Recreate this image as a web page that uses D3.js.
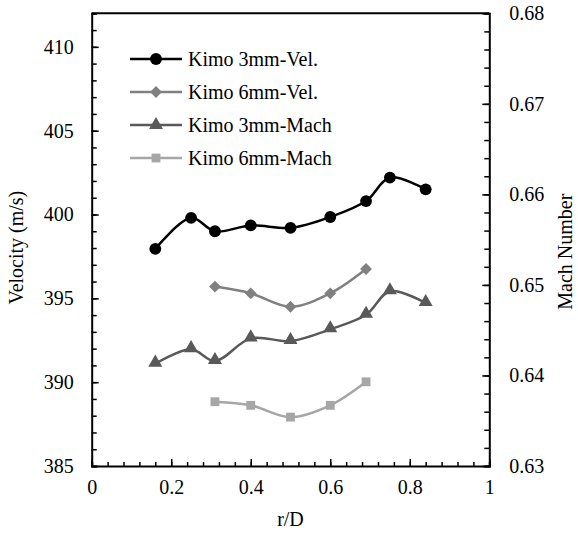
<!DOCTYPE html>
<html>
<head>
  <meta charset="utf-8">
  <style>
    body { margin: 0; background: #fff; }
    svg, svg text { font-family: "Liberation Serif", "Times New Roman", "DejaVu Serif", serif !important; fill: #000; }
  </style>
</head>
<body>
  <script src="https://cdn.jsdelivr.net/npm/d3@7/dist/d3.min.js"></script>
  <script>
    // chart data
    var rD = [0.16, 0.25, 0.31, 0.40, 0.50, 0.60, 0.69, 0.75, 0.84];
    var rD6 = [0.31, 0.40, 0.50, 0.60, 0.69];
    var vel3mm = [397.95, 399.8, 399.0, 399.35, 399.2, 399.85, 400.8, 402.2, 401.5];
    var vel6mm = [395.7, 395.3, 394.5, 395.3, 396.75];
    var mach3mm = [0.6413, 0.6429, 0.6416, 0.6441, 0.6438, 0.6451, 0.6467, 0.6493, 0.6480];
    var mach6mm = [0.6371, 0.6367, 0.6354, 0.6367, 0.6393];
    var seriesNames = ["Kimo 3mm-Vel.", "Kimo 6mm-Vel.", "Kimo 3mm-Mach", "Kimo 6mm-Mach"];
    var xTicks = [0, 0.2, 0.4, 0.6, 0.8, 1];
    var velTicks = [385, 390, 395, 400, 405, 410];
    var machTicks = [0.63, 0.64, 0.65, 0.66, 0.67, 0.68];

    var w = 578, h = 533;
    var FONT = "'Liberation Serif', 'Times New Roman', 'DejaVu Serif', serif";
    // plot box (note: "top" is reserved on window, so use pTop etc.)
    var pLeft = 91.7, pRight = 489.3, pTop = 13.3, pBottom = 466;

    var x = d3.scaleLinear().domain([0, 1]).range([pLeft, pRight]);
    var yV = d3.scaleLinear().domain([385, 412]).range([pBottom, pTop]);
    var yM = d3.scaleLinear().domain([0.63, 0.68]).range([pBottom, pTop]);

    var svg = d3.select("body").append("svg")
      .attr("width", w)
      .attr("height", h)
      .attr("font-family", FONT);

    // series definitions (axis + style)
    var series = [
      { name: seriesNames[0], xs: rD, ys: vel3mm, y: yV, color: "#000000", marker: "circle" },
      { name: seriesNames[1], xs: rD6, ys: vel6mm, y: yV, color: "#808080", marker: "diamond" },
      { name: seriesNames[2], xs: rD, ys: mach3mm, y: yM, color: "#595959", marker: "triangle" },
      { name: seriesNames[3], xs: rD6, ys: mach6mm, y: yM, color: "#a6a6a6", marker: "square" }
    ];

    function markerPath(type) {
      if (type == "circle") return d3.symbol().type(d3.symbolCircle).size(110)();
      if (type == "diamond") return d3.symbol().type(d3.symbolSquare).size(70)();
      if (type == "triangle") return d3.symbol().type(d3.symbolTriangle).size(85)();
      return d3.symbol().type(d3.symbolSquare).size(78)();
    }

    // axes box
    svg.append("g")
      .attr("transform", "translate(0," + pBottom + ")")
      .call(d3.axisBottom(x).tickValues(d3.range(0, 1.001, 0.04)).tickSize(-4).tickFormat(""));
    svg.append("g")
      .attr("transform", "translate(0," + pBottom + ")")
      .call(d3.axisBottom(x).tickValues(xTicks).tickSize(-7).tickPadding(14).tickFormat(d3.format("")))
      .call(function(g) { g.select(".domain").remove(); });

    svg.append("g")
      .attr("transform", "translate(" + pLeft + ",0)")
      .call(d3.axisLeft(yV).tickValues(d3.range(385, 412.01, 1)).tickSize(-5).tickFormat(""));
    svg.append("g")
      .attr("transform", "translate(" + pLeft + ",0)")
      .call(d3.axisLeft(yV).tickValues(velTicks).tickSize(-7).tickPadding(18))
      .call(function(g) { g.select(".domain").remove(); });

    svg.append("g")
      .attr("transform", "translate(" + pRight + ",0)")
      .call(d3.axisRight(yM).tickValues(d3.range(0, 26).map(function(i) { return 0.63 + i * 0.002; })).tickSize(-5).tickFormat(""));
    svg.append("g")
      .attr("transform", "translate(" + pRight + ",0)")
      .call(d3.axisRight(yM).tickValues(machTicks).tickSize(-7).tickPadding(20).tickFormat(d3.format(".2f")))
      .call(function(g) { g.select(".domain").remove(); });

    svg.append("line")
      .attr("x1", pLeft).attr("x2", pRight)
      .attr("y1", pTop).attr("y2", pTop)
      .attr("stroke", "#000").attr("stroke-width", 2);

    svg.selectAll("g").attr("font-family", FONT);
    svg.selectAll(".domain").attr("stroke", "#000").attr("stroke-width", 2);
    svg.selectAll(".tick line").attr("stroke", "#000").attr("stroke-width", 1.5);
    svg.selectAll(".tick text").attr("font-size", "20px").attr("fill", "#000").attr("font-family", FONT);

    // axis titles
    svg.append("text")
      .attr("text-anchor", "middle")
      .attr("x", (pLeft + pRight) / 2)
      .attr("y", 526)
      .attr("font-size", "20px")
      .attr("font-family", FONT)
      .text("r/D");

    svg.append("text")
      .attr("text-anchor", "middle")
      .attr("transform", "translate(23," + ((pTop + pBottom) / 2 + 8) + ") rotate(-90)")
      .attr("font-size", "20px")
      .attr("font-family", FONT)
      .text("Velocity  (m/s)");

    svg.append("text")
      .attr("text-anchor", "middle")
      .attr("transform", "translate(572," + ((pTop + pBottom) / 2 + 12) + ") rotate(-90)")
      .attr("font-size", "20px")
      .attr("font-family", FONT)
      .text("Mach Number");

    // lines + markers
    series.forEach(function(s) {
      var pts = s.xs.map(function(d, i) { return [d, s.ys[i]]; });
      var line = d3.line()
        .x(function(d) { return x(d[0]); })
        .y(function(d) { return s.y(d[1]); })
        .curve(d3.curveCatmullRom.alpha(0.5));
      svg.append("path")
        .datum(pts)
        .attr("d", line)
        .attr("fill", "none")
        .attr("stroke", s.color)
        .attr("stroke-width", 2.5);
      svg.selectAll(null)
        .data(pts)
        .enter()
        .append("path")
        .attr("d", markerPath(s.marker))
        .attr("transform", function(d) {
          var t = "translate(" + x(d[0]) + "," + s.y(d[1]) + ")";
          if (s.marker == "diamond") t += " rotate(45)";
          if (s.marker == "triangle") t += " translate(0,-1)";
          return t;
        })
        .attr("fill", s.color);
    });

    // legend
    var legend = svg.append("g").attr("transform", "translate(130,59)");
    series.forEach(function(s, i) {
      var g = legend.append("g").attr("transform", "translate(0," + (i * 33) + ")");
      g.append("line")
        .attr("x1", 0).attr("x2", 52)
        .attr("stroke", s.color).attr("stroke-width", 2.5);
      g.append("path")
        .attr("d", markerPath(s.marker))
        .attr("transform", "translate(26,0)" + (s.marker == "diamond" ? " rotate(45)" : ""))
        .attr("fill", s.color);
      g.append("text")
        .attr("x", 58)
        .attr("y", 7)
        .attr("font-size", "20px")
        .attr("font-family", FONT)
        .text(s.name);
    });
  </script>
</body>
</html>
